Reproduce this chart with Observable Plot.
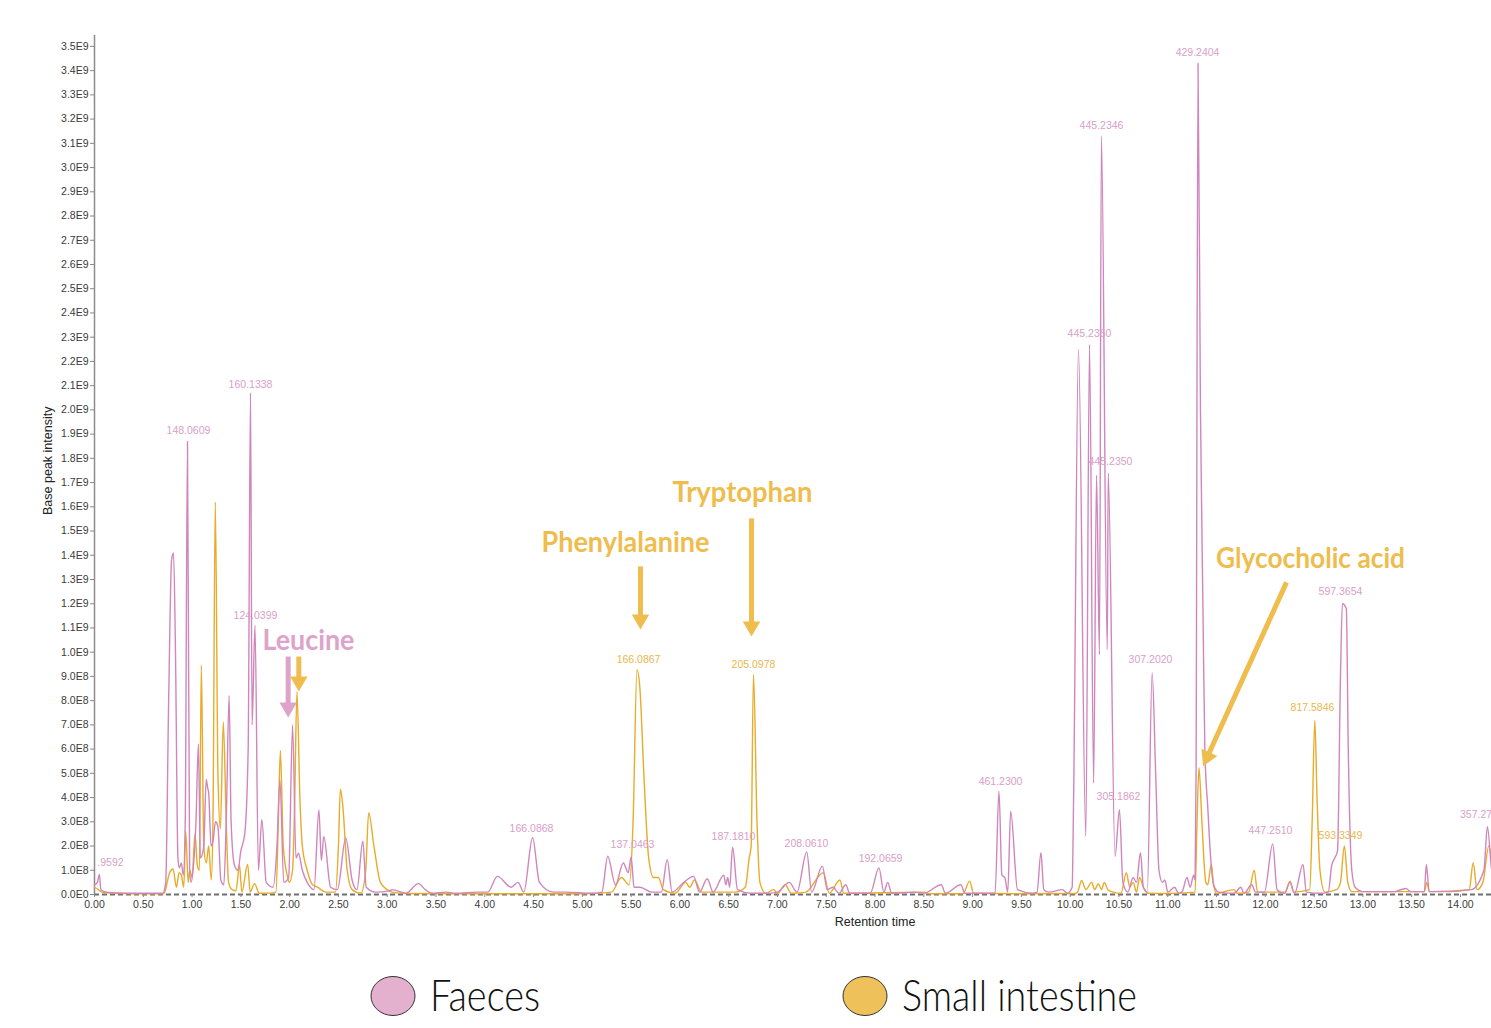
<!DOCTYPE html>
<html><head><meta charset="utf-8">
<script src="https://cdn.jsdelivr.net/npm/d3@7"></script>
<script src="https://cdn.jsdelivr.net/npm/@observablehq/plot@0.6"></script>
<style>
html,body{margin:0;padding:0;background:#fff;overflow:hidden;}
#chart svg{display:block;}
#legend{display:block;}
</style></head><body>
<div id="chart"></div>
<svg id="legend" width="1491" height="88"></svg>
<script>
// ---- series (retention time [min], base peak intensity ×1E9) ----
const faecesTrace = [
[0.00,0.04],[0.03,0.05],[0.05,0.083],[0.065,0.02],[0.10,0.012],[0.15,0.008],[0.30,0.005],[0.50,0.005],[0.70,0.005],
[0.73,0.05],[0.76,0.8],[0.79,1.38],[0.81,1.41],[0.83,1.0],[0.855,0.15],[0.87,0.11],[0.89,0.13],[0.91,0.08],[0.93,0.3],
[0.953,1.87],[0.975,0.1],[0.99,0.05],[1.01,0.1],[1.04,0.3],[1.065,0.62],[1.085,0.15],[1.12,0.2],[1.145,0.475],[1.16,0.44],
[1.17,0.42],[1.195,0.2],[1.215,0.22],[1.24,0.3],[1.265,0.28],[1.295,0.06],[1.325,0.04],[1.35,0.3],[1.38,0.82],[1.40,0.3],
[1.435,0.12],[1.47,0.1],[1.50,0.18],[1.54,0.25],[1.575,0.6],[1.599,2.07],[1.615,0.7],[1.645,1.11],[1.68,0.1],[1.715,0.31],
[1.76,0.05],[1.83,0.03],[1.87,0.2],[1.90,0.475],[1.94,0.05],[1.99,0.07],[2.03,0.70],[2.065,0.15],[2.09,0.17],[2.13,0.1],
[2.18,0.05],[2.25,0.02],[2.30,0.35],[2.325,0.14],[2.35,0.24],[2.42,0.03],[2.49,0.02],[2.575,0.233],[2.64,0.06],[2.69,0.02],
[2.75,0.22],[2.785,0.03],[2.88,0.01],[3.02,0.015],[3.05,0.02],[3.19,0.005],[3.32,0.045],[3.39,0.02],[3.46,0.005],[3.60,0.01],
[3.70,0.005],[3.93,0.01],[4.03,0.01],[4.13,0.075],[4.27,0.03],[4.34,0.05],[4.40,0.01],[4.49,0.234],[4.56,0.05],[4.70,0.01],
[4.83,0.01],[5.09,0.005],[5.20,0.01],[5.26,0.158],[5.34,0.04],[5.42,0.13],[5.47,0.09],[5.50,0.155],[5.53,0.03],[5.59,0.03],
[5.71,0.01],[5.81,0.01],[5.87,0.144],[5.92,0.01],[6.04,0.05],[6.14,0.075],[6.20,0.01],[6.28,0.065],[6.34,0.01],[6.45,0.08],
[6.47,0.04],[6.49,0.07],[6.51,0.03],[6.54,0.195],[6.59,0.02],[6.73,0.005],[6.88,0.005],[7.00,0.01],[7.12,0.05],[7.20,0.01],
[7.30,0.176],[7.35,0.01],[7.46,0.117],[7.51,0.02],[7.57,0.03],[7.63,0.005],[7.70,0.04],[7.74,0.005],[7.95,0.005],[8.04,0.11],
[8.09,0.01],[8.13,0.05],[8.17,0.005],[8.41,0.01],[8.50,0.005],[8.68,0.04],[8.72,0.005],[8.88,0.04],[8.92,0.005],[9.23,0.005],
[9.27,0.426],[9.30,0.08],[9.33,0.07],[9.36,0.01],[9.39,0.344],[9.46,0.02],[9.61,0.005],[9.66,0.01],[9.70,0.172],[9.73,0.02],
[9.78,0.01],[9.92,0.02],[9.97,0.005],[10.02,0.03],[10.035,0.4],[10.085,2.25],[10.16,0.24],[10.198,2.27],[10.24,0.46],
[10.27,1.73],[10.30,0.99],[10.32,3.13],[10.38,1.01],[10.39,1.74],[10.46,0.158],[10.505,0.35],[10.54,0.05],[10.59,0.01],
[10.645,0.07],[10.68,0.05],[10.72,0.172],[10.75,0.03],[10.79,0.01],[10.84,0.915],[10.876,0.5],[10.91,0.1],[10.945,0.05],
[10.97,0.06],[11.00,0.01],[11.07,0.03],[11.11,0.005],[11.145,0.01],[11.197,0.07],[11.23,0.03],[11.265,0.08],[11.28,0.06],
[11.29,0.5],[11.31,3.43],[11.335,2.0],[11.36,1.2],[11.38,0.6],[11.41,0.36],[11.44,0.15],[11.47,0.04],[11.52,0.01],
[11.68,0.005],[11.75,0.03],[11.78,0.005],[11.86,0.04],[11.90,0.01],[11.99,0.01],[12.076,0.209],[12.12,0.02],[12.20,0.005],
[12.25,0.05],[12.30,0.005],[12.386,0.124],[12.42,0.01],[12.56,0.005],[12.645,0.01],[12.68,0.12],[12.71,0.15],[12.74,0.18],
[12.77,0.9],[12.79,1.20],[12.83,1.18],[12.85,0.6],[12.886,0.1],[12.92,0.03],[13.00,0.012],[13.145,0.012],[13.32,0.012],
[13.44,0.025],[13.49,0.012],[13.63,0.012],[13.65,0.124],[13.68,0.012],[14.11,0.02],[14.24,0.1],[14.276,0.28],[14.32,0.1],
[14.35,0.05]
];
const intestineTrace = [
[0.00,0.03],[0.04,0.02],[0.075,0.01],[0.19,0.005],[0.40,0.003],[0.70,0.003],[0.72,0.01],[0.77,0.09],[0.805,0.105],[0.84,0.03],
[0.867,0.09],[0.89,0.08],[0.915,0.03],[0.935,0.26],[0.96,0.05],[0.976,0.1],[1.00,0.07],[1.03,0.25],[1.054,0.12],[1.075,0.1],
[1.095,0.946],[1.12,0.2],[1.146,0.13],[1.17,0.2],[1.197,0.06],[1.214,0.3],[1.238,1.62],[1.265,0.5],[1.29,0.27],[1.32,0.712],
[1.35,0.3],[1.374,0.05],[1.41,0.02],[1.45,0.015],[1.486,0.122],[1.51,0.01],[1.57,0.125],[1.595,0.01],[1.64,0.045],[1.69,0.005],
[1.76,0.005],[1.86,0.01],[1.884,0.3],[1.905,0.594],[1.935,0.2],[1.98,0.07],[1.997,0.05],[2.03,0.1],[2.05,0.35],[2.075,0.837],
[2.105,0.4],[2.13,0.2],[2.18,0.1],[2.235,0.04],[2.286,0.03],[2.37,0.01],[2.47,0.01],[2.50,0.2],[2.52,0.435],[2.544,0.37],
[2.59,0.1],[2.64,0.02],[2.73,0.005],[2.78,0.1],[2.81,0.338],[2.864,0.2],[2.93,0.05],[3.00,0.02],[3.05,0.01],[3.20,0.004],
[4.00,0.003],[5.00,0.003],[5.30,0.01],[5.40,0.07],[5.48,0.04],[5.52,0.3],[5.56,0.928],[5.59,0.85],[5.63,0.5],[5.68,0.15],
[5.73,0.07],[5.78,0.07],[5.83,0.02],[5.95,0.005],[6.06,0.05],[6.10,0.03],[6.15,0.06],[6.22,0.01],[6.57,0.01],[6.67,0.03],
[6.71,0.15],[6.73,0.2],[6.754,0.908],[6.79,0.3],[6.82,0.05],[6.88,0.005],[6.96,0.02],[7.00,0.005],[7.08,0.04],[7.14,0.005],
[7.29,0.01],[7.47,0.09],[7.53,0.005],[7.64,0.06],[7.68,0.005],[8.50,0.01],[8.55,0.003],[8.90,0.003],[8.97,0.055],[9.01,0.005],
[9.50,0.003],[10.05,0.004],[10.076,0.01],[10.117,0.058],[10.16,0.02],[10.22,0.05],[10.25,0.02],[10.29,0.045],[10.32,0.02],
[10.35,0.05],[10.386,0.02],[10.44,0.01],[10.52,0.005],[10.576,0.09],[10.61,0.03],[10.645,0.05],[10.68,0.01],[10.71,0.07],
[10.75,0.03],[10.80,0.005],[11.00,0.004],[11.28,0.01],[11.30,0.3],[11.32,0.523],[11.35,0.3],[11.39,0.05],[11.41,0.04],
[11.445,0.124],[11.47,0.04],[11.50,0.005],[11.68,0.02],[11.71,0.005],[11.83,0.01],[11.886,0.1],[11.92,0.01],[12.20,0.01],
[12.255,0.055],[12.29,0.01],[12.455,0.02],[12.48,0.3],[12.507,0.718],[12.53,0.4],[12.56,0.1],[12.61,0.01],[12.73,0.02],
[12.77,0.05],[12.81,0.2],[12.845,0.05],[12.886,0.012],[13.20,0.012],[13.63,0.012],[13.655,0.05],[13.68,0.012],[13.90,0.012],
[14.09,0.02],[14.13,0.13],[14.17,0.02],[14.23,0.05],[14.29,0.2],[14.33,0.1]
];

// ---- series names & colours ----
const seriesNames = ["Faeces", "Small intestine"];
const lineColors = ["#d086bc", "#e8ab2a"];
const peakLabelColors = ["#d9a0c9", "#e8b84c"];
const annotationColors = ["#dea3ca", "#efbd4e"];
const legendFills = ["#e3b1cd", "#eec15b"];

// ---- peak labels (m/z) ----
const peakLabelText = [".9592","148.0609","160.1338","124.0399","166.0868","137.0463","187.1810","208.0610","192.0659",
  "461.2300","445.2350","445.2346","445.2350","429.2404","305.1862","307.2020","447.2510","597.3654","357.27",
  "166.0867","205.0978","817.5846","593.3349"];
const peakLabelTime = [0.164,0.963,1.599,1.65,4.479,5.514,6.549,7.297,8.056,
  9.286,10.198,10.321,10.413,11.305,10.495,10.823,12.053,12.770,14.16,
  5.576,6.754,12.483,12.770];
const peakLabelIntensity = [0.132,1.915,2.105,1.151,0.272,0.206,0.239,0.210,0.149,
  0.466,2.315,3.174,1.787,3.475,0.404,0.970,0.264,1.250,0.330,
  0.970,0.949,0.772,0.2435];
const peakLabelSeries = [0,0,0,0,0,0,0,0,0, 0,0,0,0,0,0,0,0,0,0, 1,1,1,1];

// ---- compound annotations ----
const annotationText = ["Leucine","Phenylalanine","Tryptophan","Glycocholic acid"];
const annotationTime = [2.193,5.442,6.641,12.463];
const annotationIntensity = [1.044,1.449,1.655,1.383];
const annotationSeries = [0,1,1,1];
const annotationWidth = [92,168,140,189];

// arrows: start (time, intensity) -> head (time, intensity)
const arrowStartTime = [1.985,2.094,5.596,6.734,12.217];
const arrowStartIntensity = [0.982,0.982,1.354,1.552,1.288];
const arrowHeadTime = [1.985,2.094,5.596,6.734,11.405];
const arrowHeadIntensity = [0.772,0.879,1.135,1.106,0.5675];
const arrowRotation = [180,180,180,180,204.4];
const arrowSeries = [0,1,1,1,1];

// ---- axes ----
const yTicks = d3.range(0, 36).map(i => i * 1e8);
const xTicks = d3.range(0, 29).map(i => i * 0.5);
const fmtY = v => v === 0 ? "0.0E0" : v < 9.5e8 ? (v / 1e8).toFixed(1) + "E8" : (v / 1e9).toFixed(1) + "E9";

// ---- tables ----
const toRows = (trace, s) => trace.map(([t, v]) => ({t, v: v * 1e9, s}));
const faeces = toRows(faecesTrace, 0);
const intestine = toRows(intestineTrace, 1);
const peakLabels = peakLabelText.map((txt, i) => ({txt, t: peakLabelTime[i], v: peakLabelIntensity[i] * 1e9, s: peakLabelSeries[i]}));
const annotations = annotationText.map((txt, i) => ({txt, t: annotationTime[i], v: annotationIntensity[i] * 1e9, s: annotationSeries[i]}));
const arrows = arrowStartTime.map((t, i) => ({
  t1: t, v1: arrowStartIntensity[i] * 1e9, t2: arrowHeadTime[i], v2: arrowHeadIntensity[i] * 1e9,
  rot: arrowRotation[i], s: arrowSeries[i]}));

const plot = Plot.plot({
  width: 1491, height: 940,
  marginLeft: 94, marginRight: 0, marginTop: 35, marginBottom: 46,
  x: {domain: [0, 14.318]},
  y: {domain: [0, 3.545e9]},
  style: {fontFamily: "'Liberation Sans', Arial, sans-serif", fontSize: "10px", background: "#fff", overflow: "visible"},
  marks: [
    Plot.ruleY([0], {stroke: "#6e6e6e", strokeWidth: 2, strokeDasharray: "5,3"}),
    Plot.ruleX([0], {stroke: "#8c8c8c", strokeWidth: 1.5}),
    Plot.axisY({ticks: yTicks, tickFormat: fmtY, tickSize: 4, tickPadding: 2, label: null, fontSize: 10.5, fill: "#3a3a3a", stroke: "#888"}),
    Plot.axisX({ticks: xTicks, tickFormat: d => d.toFixed(2), tickSize: 3, tickPadding: 3, label: null, fontSize: 10.5, fill: "#3a3a3a", stroke: "#888"}),
    Plot.text([{t: 8.0, txt: "Retention time"}], {x: "t", text: "txt", frameAnchor: "bottom", dy: 31, fontSize: 12.5, fill: "#222"}),
    Plot.text([{v: 1.79e9, txt: "Base peak intensity"}], {y: "v", text: "txt", frameAnchor: "left", textAnchor: "middle", dx: -47, rotate: -90, fontSize: 12.5, fill: "#222"}),
    Plot.line(intestine, {x: "t", y: "v", stroke: lineColors[1], strokeWidth: 1.4, curve: "monotone-x"}),
    Plot.line(faeces, {x: "t", y: "v", stroke: lineColors[0], strokeWidth: 1.4, curve: "monotone-x"}),
    Plot.text(peakLabels, {x: "t", y: "v", text: "txt", fill: d => peakLabelColors[d.s], fontSize: 10.5}),
    Plot.link(arrows, {x1: "t1", y1: "v1", x2: "t2", y2: "v2", stroke: d => annotationColors[d.s], strokeWidth: 5}),
    Plot.dot(arrows, {x: "t2", y: "v2", symbol: "triangle", r: 6.5, rotate: "rot", fill: d => annotationColors[d.s], stroke: "none"}),
    Plot.text(annotations, {x: "t", y: "v", text: "txt", fill: d => annotationColors[d.s], fontSize: 28, fontWeight: 700,
      fontFamily: "Lato, 'Open Sans', sans-serif", ariaDescription: "annotation"})
  ]
});
document.getElementById("chart").appendChild(plot);

// squeeze annotation words to the widths of the reference lettering
d3.select(plot).selectAll('g[aria-description="annotation"] text')
  .attr("textLength", (d, i) => annotationWidth[i])
  .attr("lengthAdjust", "spacingAndGlyphs");

// ---- legend ----
const legend = d3.select("#legend");
const legendCx = [393, 865];
const legendTextX = [430, 902];
const legendTextW = [110, 235];
seriesNames.forEach((name, i) => {
  legend.append("ellipse").attr("cx", legendCx[i]).attr("cy", 56).attr("rx", 22).attr("ry", 19.5)
    .attr("fill", legendFills[i]).attr("stroke", "#333").attr("stroke-width", 1);
  legend.append("text").attr("x", legendTextX[i]).attr("y", 71).text(name)
    .attr("font-family", "Lato, 'Open Sans', sans-serif").attr("font-weight", 300).attr("font-size", 44)
    .attr("fill", "#111").attr("textLength", legendTextW[i]).attr("lengthAdjust", "spacingAndGlyphs");
});
</script>
</body></html>
